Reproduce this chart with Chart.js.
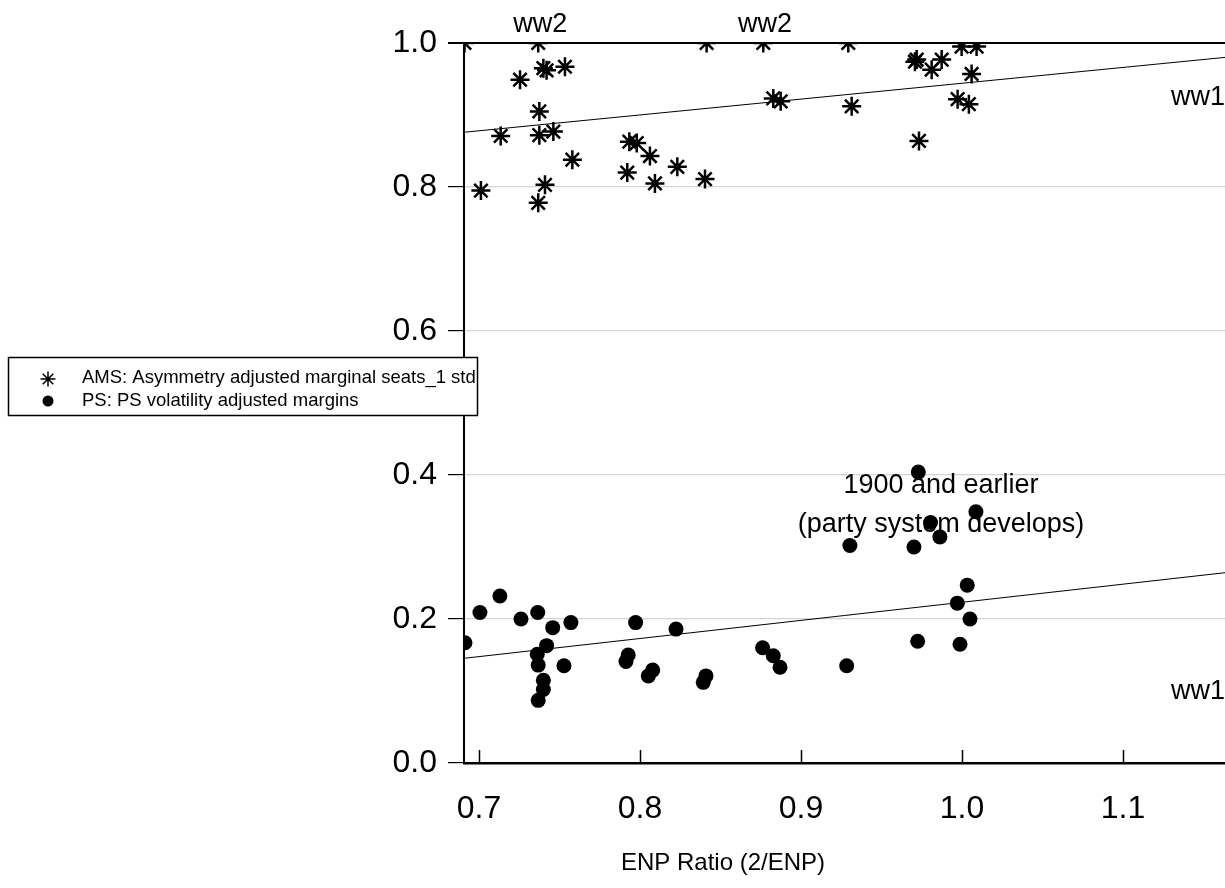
<!DOCTYPE html>
<html>
<head>
<meta charset="utf-8">
<script src="https://cdn.jsdelivr.net/npm/chart.js@4.4.1/dist/chart.umd.min.js"></script>
<style>
  html, body { margin: 0; padding: 0; background: #fff; overflow: hidden; }
  #wrap { width: 1225px; height: 888px; position: relative; }
  #grafica { display: block; }
</style>
</head>
<body>
<div id="wrap"><canvas id="grafica"></canvas></div>
<script>
// AMS: asymmetry adjusted marginal seats (asterisks)
const amsX = [0.691, 0.7012, 0.7135, 0.7255, 0.7368, 0.7368, 0.7375, 0.7375, 0.740, 0.741,
  0.742, 0.7462, 0.7534, 0.758, 0.7921, 0.7934, 0.798, 0.8062, 0.8093, 0.8232,
  0.8404, 0.8414, 0.8766, 0.8828, 0.8874, 0.9294, 0.9315, 0.9708, 0.9719, 0.9733,
  0.9812, 0.9874, 0.9973, 0.9998, 1.0043, 1.006, 1.0091];
const amsY = [1.0, 0.795, 0.871, 0.949, 1.0, 0.778, 0.905, 0.872, 0.965, 0.803,
  0.962, 0.877, 0.967, 0.838, 0.820, 0.863, 0.861, 0.843, 0.805, 0.828,
  0.811, 1.0, 1.0, 0.923, 0.919, 1.0, 0.912, 0.974, 0.977, 0.864,
  0.963, 0.977, 0.922, 0.995, 0.915, 0.957, 0.995];

// PS: PS volatility adjusted margins (dots)
const psX = [0.6913, 0.7006, 0.713, 0.7261, 0.7362, 0.7365, 0.7368, 0.7368, 0.740, 0.740,
  0.742, 0.7458, 0.7528, 0.7571, 0.7913, 0.7927, 0.7973, 0.8052, 0.8079, 0.8224,
  0.8393, 0.841, 0.8762, 0.8828, 0.887, 0.9284, 0.9304, 0.9702, 0.9725, 0.9729,
  0.9805, 0.9863, 0.9971, 0.9988, 1.0033, 1.005, 1.0087];
const psY = [0.167, 0.209, 0.232, 0.200, 0.151, 0.209, 0.136, 0.087, 0.115, 0.102,
  0.163, 0.188, 0.135, 0.195, 0.141, 0.150, 0.195, 0.121, 0.129, 0.186,
  0.112, 0.121, 0.160, 0.149, 0.133, 0.135, 0.302, 0.300, 0.169, 0.404,
  0.334, 0.314, 0.222, 0.165, 0.247, 0.200, 0.349];

// fitted lines (end points across the plot)
const fitX = [0.6907, 1.1634];
const amsFitY = [0.876, 0.980];
const psFitY = [0.1454, 0.2643];

const xTicks = [0.7, 0.8, 0.9, 1.0, 1.1];
const legendLabels = ['AMS: Asymmetry adjusted marginal seats_1 std', 'PS: PS volatility adjusted margins'];
const xTitle = 'ENP Ratio (2/ENP)';

// text notes in data units
const noteText = ['ww2', 'ww2', 'ww1', 'ww1', '1900 and earlier', '(party system develops)'];
const noteX = [0.738, 0.8776, 1.1466, 1.1466, 0.987, 0.987];
const noteY = [1.025, 1.025, 0.924, 0.0986, 0.386, 0.3306];

const FONT = 'Arial, "Liberation Sans", sans-serif';

const pairs = (xs, ys) => xs.map((x, i) => ({ x: x, y: ys[i] }));

const extras = {
  id: 'extras',
  afterDatasetsDraw(chart) {
    const c = chart.ctx;
    const xs = chart.scales.x;
    const area = chart.chartArea;
    c.save();
    // inner tick marks on the x axis
    c.strokeStyle = '#000';
    c.lineWidth = 1.5;
    xTicks.forEach(v => {
      const px = Math.round(xs.getPixelForValue(v)) + 0.5;
      c.beginPath();
      c.moveTo(px, area.bottom);
      c.lineTo(px, area.bottom - 13);
      c.stroke();
    });
    // notes
    c.fillStyle = '#000';
    c.font = '27px ' + FONT;
    c.textAlign = 'center';
    c.textBaseline = 'middle';
    noteText.forEach((t, i) => {
      c.fillText(t, xs.getPixelForValue(noteX[i]), chart.scales.y.getPixelForValue(noteY[i]));
    });
    c.restore();
  },
  afterDraw(chart) {
    const c = chart.ctx;
    c.save();
    // axis title
    c.fillStyle = '#000';
    c.font = '24px ' + FONT;
    c.textAlign = 'center';
    c.textBaseline = 'middle';
    c.fillText(xTitle, 723, 863);
    // legend box
    c.fillStyle = '#fff';
    c.fillRect(8, 357, 469, 58);
    c.strokeStyle = '#000';
    c.lineWidth = 1.5;
    c.strokeRect(8.5, 357.5, 469, 58);
    c.strokeStyle = '#000';
    c.fillStyle = '#000';
    Chart.helpers.drawPoint(c, { pointStyle: 'star', radius: 7.5, borderWidth: 2, rotation: 0 }, 48, 379);
    Chart.helpers.drawPoint(c, { pointStyle: 'circle', radius: 5.5, borderWidth: 0, rotation: 0 }, 48, 401);
    c.font = '18.5px ' + FONT;
    c.textAlign = 'left';
    c.textBaseline = 'middle';
    c.fillText(legendLabels[0], 82, 378);
    c.fillText(legendLabels[1], 82, 401);
    c.restore();
  }
};

const ctx = document.getElementById('grafica');

new Chart(ctx, {
  type: 'scatter',
  data: {
    datasets: [
      {
        label: legendLabels[0],
        data: pairs(amsX, amsY),
        pointStyle: 'star',
        pointRadius: 9.5,
        pointBorderWidth: 2.5,
        borderColor: '#000',
        backgroundColor: '#000',
        clip: 0
      },
      {
        label: legendLabels[1],
        data: pairs(psX, psY),
        pointStyle: 'circle',
        pointRadius: 7.5,
        pointBorderWidth: 0,
        borderColor: '#000',
        backgroundColor: '#000',
        clip: 0
      },
      {
        type: 'line',
        label: 'AMS fit',
        data: pairs(fitX, amsFitY),
        borderColor: '#000',
        borderWidth: 1,
        pointRadius: 0,
        fill: false,
        clip: 0
      },
      {
        type: 'line',
        label: 'PS fit',
        data: pairs(fitX, psFitY),
        borderColor: '#000',
        borderWidth: 1,
        pointRadius: 0,
        fill: false,
        clip: 0
      }
    ]
  },
  options: {
    responsive: true,
    maintainAspectRatio: false,
    animation: false,
    layout: { autoPadding: false, padding: { top: 43, right: 0, left: 0, bottom: 0 } },
    plugins: {
      legend: { display: false },
      tooltip: { enabled: false }
    },
    scales: {
      x: {
        type: 'linear',
        position: 'bottom',
        min: 0.6907,
        max: 1.1634,
        afterBuildTicks: scale => { scale.ticks = xTicks.map(v => ({ value: v })); },
        afterFit: scale => { scale.height = 125; scale.paddingRight = 0; scale.paddingLeft = 0; },
        grid: { display: false },
        border: { display: true, color: '#000', width: 2.5 },
        ticks: {
          color: '#000',
          padding: 19,
          font: { family: FONT, size: 32 },
          callback: v => v.toFixed(1)
        }
      },
      y: {
        min: 0,
        max: 1,
        afterFit: scale => { scale.width = 464; },
        grid: {
          color: c => Math.abs(c.tick.value - 1) < 1e-9 ? '#000' : '#d4d4d4',
          lineWidth: c => Math.abs(c.tick.value - 1) < 1e-9 ? 2 : 1.2,
          tickColor: '#000',
          tickLength: 16,
          drawTicks: true
        },
        border: { display: true, color: '#000', width: 2 },
        ticks: {
          stepSize: 0.2,
          color: '#000',
          padding: 11,
          font: { family: FONT, size: 32 },
          callback: v => v.toFixed(1)
        }
      }
    }
  },
  plugins: [extras]
});
</script>
</body>
</html>
